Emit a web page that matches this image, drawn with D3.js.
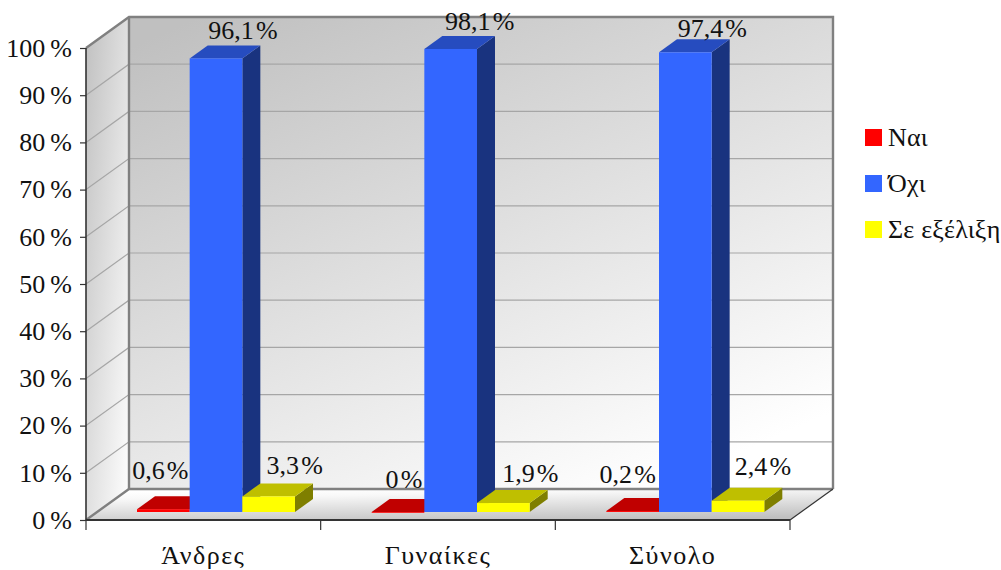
<!DOCTYPE html>
<html><head><meta charset="utf-8">
<script src="https://cdn.jsdelivr.net/npm/d3@7"></script>
<style>html,body{margin:0;padding:0;background:#fff}svg{display:block}
text{font-family:"Liberation Serif","DejaVu Serif",serif;fill:#111}</style></head>
<body><svg id="c" width="1001" height="570"></svg>
<script>
const categories=["Άνδρες","Γυναίκες","Σύνολο"];
const seriesNames=["Ναι","Όχι","Σε εξέλιξη"];
const nai=[0.6,0,0.2];
const ochi=[96.1,98.1,97.4];
const seExelixi=[3.3,1.9,2.4];
const labelsNai=["0,6\u200A%","0\u200A%","0,2\u200A%"];
const labelsOchi=["96,1\u200A%","98,1\u200A%","97,4\u200A%"];
const labelsSe=["3,3\u200A%","1,9\u200A%","2,4\u200A%"];
const yTicks=[0,10,20,30,40,50,60,70,80,90,100];
const colors={front:["#ff0000","#3366ff","#ffff00"],top:["#c00000","#264cbf","#bfbf00"],side:["#800000","#19337f","#7f7f00"]};
// hand-placed label offsets relative to bar centre / bar top, as in the original
const nudges=[[[-3,-30],[6,-24],[-5,-28]],[[27,-19],[29,-19],[27,-15]],[[26,-22],[27,-21],[25,-26]]];

const svg=d3.select("#c");
const L=86,R=790,T=48,B=520,DX=43,DY=-31;
const FS=26;
const y=d3.scaleLinear().domain([0,100]).range([B,T]);
const x=d3.scaleBand().domain(categories).range([L,R]);
const inner=d3.scaleBand().domain(seriesNames).range([40,198]);
const pts=a=>a.map(p=>p.join(",")).join(" ");
const defs=svg.append("defs");
function grad(id,x1,y1,x2,y2,stops){const g=defs.append("linearGradient").attr("id",id).attr("x1",x1).attr("y1",y1).attr("x2",x2).attr("y2",y2);
 stops.forEach(s=>g.append("stop").attr("offset",s[0]).attr("stop-color",s[1]));}
grad("back",0.1,0,0.75,1,[[0,"#c0c0c0"],[1,"#ffffff"]]);
grad("left",0,0,1,1,[[0,"#c0c0c0"],[1,"#ffffff"]]);
grad("floor",0.3,0,0.7,1,[[0,"#ffffff"],[0.2,"#f8f8f8"],[1,"#c0c0c0"]]);

svg.append("polygon").attr("points",pts([[L+DX,T+DY],[R+DX,T+DY],[R+DX,B+DY],[L+DX,B+DY]])).attr("fill","url(#back)");
svg.append("polygon").attr("points",pts([[L,T],[L+DX,T+DY],[L+DX,B+DY],[L,B]])).attr("fill","url(#left)");
svg.append("polygon").attr("points",pts([[L,B],[L+DX,B+DY],[R+DX,B+DY],[R,B]])).attr("fill","url(#floor)");

const grid=svg.append("g").attr("stroke","#a6a6a6").attr("stroke-width",1.2).attr("fill","none");
yTicks.slice(1,-1).forEach(t=>{
 grid.append("polyline").attr("points",pts([[L,y(t)],[L+DX,y(t)+DY],[R+DX,y(t)+DY]]));
});
const frame=svg.append("g").attr("stroke","#808080").attr("stroke-width",2.4).attr("fill","none");
frame.append("polyline").attr("points",pts([[L,T],[L+DX,T+DY],[R+DX,T+DY],[R+DX,B+DY]]));
frame.append("polyline").attr("points",pts([[L,B],[L+DX,B+DY],[R+DX,B+DY]]));
frame.append("line").attr("x1",L+DX).attr("y1",T+DY).attr("x2",L+DX).attr("y2",B+DY);
svg.append("line").attr("x1",R).attr("y1",B).attr("x2",R+DX).attr("y2",B+DY).attr("stroke","#333").attr("stroke-width",1.2);

// bars
const offX=11,offY=-8,dBx=18,dBy=-13;
const values=[nai,ochi,seExelixi], labels=[labelsNai,labelsOchi,labelsSe];
const hpx=v=>B-y(v);
const bars=svg.append("g");
const textLayer=svg.append("g");
categories.forEach((c,ci)=>{
 seriesNames.forEach((s,si)=>{
  const v=values[si][ci];
  const x0=x(c)+inner(s)+offX, w=inner.bandwidth(), yb=B+offY, yt=yb-hpx(v);
  bars.append("polygon").attr("points",pts([[x0+w,yt],[x0+w+dBx,yt+dBy],[x0+w+dBx,yb+dBy],[x0+w,yb]])).attr("fill",colors.side[si]);
  bars.append("polygon").attr("points",pts([[x0,yt],[x0+dBx,yt+dBy],[x0+w+dBx,yt+dBy],[x0+w,yt]])).attr("fill",colors.top[si]);
  bars.append("rect").attr("x",x0).attr("y",yt).attr("width",w).attr("height",Math.max(yb-yt,0.8)).attr("fill",colors.front[si]);
  const n=nudges[si][ci];
  textLayer.append("text").attr("x",x0+w/2+n[0]).attr("y",yt+n[1]).attr("text-anchor","middle").attr("font-size",FS).text(labels[si][ci]);
 });
});

// axes
const ax=svg.append("g").attr("transform",`translate(${L},0)`).call(d3.axisLeft(y).tickValues(yTicks).tickSize(6).tickPadding(8).tickFormat(d=>d+"\u2009%"));
ax.selectAll("text").attr("font-size",FS).attr("font-family","Liberation Serif").attr("fill","#111");
ax.selectAll("line").attr("stroke","#333").attr("stroke-width",1.2);
ax.select("path").attr("stroke","#333").attr("stroke-width",1.6).attr("d",`M0,${T}V${B}`);
const xa=svg.append("g").attr("transform",`translate(0,${B})`).call(d3.axisBottom(x).tickSize(0).tickPadding(26));
xa.selectAll("text").attr("font-size",FS).attr("font-family","Liberation Serif").attr("fill","#111").attr("letter-spacing",1.5);
xa.selectAll("line").remove();
xa.select("path").attr("stroke","#333").attr("stroke-width",1.8).attr("d",`M${L},0H${R}`);
const edges=[...categories.map(c=>x(c)),R];
xa.selectAll(".edge").data(edges).enter().append("line").attr("class","edge").attr("x1",d=>d).attr("x2",d=>d).attr("y1",0).attr("y2",10).attr("stroke","#333").attr("stroke-width",1.2);

// legend
const lg=svg.append("g");
seriesNames.forEach((s,i)=>{
 const yy=137+i*46;
 lg.append("rect").attr("x",865).attr("y",yy-8).attr("width",17).attr("height",17).attr("fill",colors.front[i]);
 lg.append("text").attr("x",888).attr("y",yy+9).attr("font-size",FS).attr("letter-spacing",0.2).text(s);
});
</script></body></html>
